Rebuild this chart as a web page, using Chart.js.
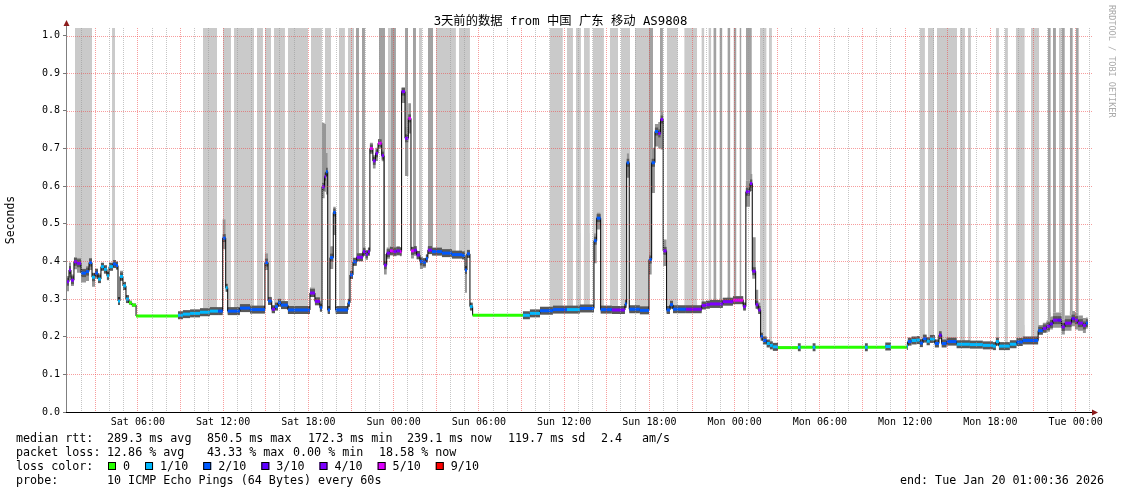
<!DOCTYPE html>
<html>
<head>
<meta charset="utf-8">
<script src="https://cdn.jsdelivr.net/npm/chart.js@4.4.1/dist/chart.umd.min.js"></script>
<style>
  html, body { margin: 0; padding: 0; background: #fff; }
  #wrap { width: 1121px; height: 494px; }
</style>
</head>
<body>
<div id="wrap"><canvas id="smoke" width="1121" height="494"></canvas></div>
<script>
// loss colour legend
const lossLabels = ['0', '1/10', '2/10', '3/10', '4/10', '5/10', '9/10'];
const lossColors = ['#26ff00', '#00b8ff', '#0059ff', '#5e00ff', '#7e00ff', '#dd00ff', '#ff0000'];

// median rtt, as steps: hour since Sat 00:00, seconds, loss colour index
const stepHour = [
  1.01, 1.15, 1.29, 1.50, 1.71, 2.00, 2.35, 2.56, 2.77, 2.98,
  3.19, 3.40, 3.61, 3.82, 3.97, 4.25, 4.46, 4.60, 4.74, 4.95,
  5.16, 5.37, 5.58, 5.87, 8.82, 9.17, 9.67, 10.37, 11.07, 11.64,
  11.97, 12.18, 12.32, 13.18, 13.89, 14.94, 15.16, 15.42, 15.65, 15.86,
  16.07, 16.56, 18.11, 18.46, 18.81, 18.96, 19.14, 19.24, 19.36, 19.52,
  19.75, 19.92, 20.78, 20.93, 21.14, 21.40, 21.84, 22.02, 22.19, 22.33,
  22.54, 22.73, 22.90, 23.16, 23.32, 23.51, 23.74, 23.95, 24.20, 24.44,
  24.56, 24.80, 25.03, 25.22, 25.43, 25.62, 25.85, 26.06, 26.27, 26.41,
  26.70, 27.40, 28.10, 28.81, 29.02, 29.16, 29.37, 29.56, 33.10, 33.59,
  34.30, 35.21, 36.20, 37.11, 38.10, 38.29, 38.57, 39.36, 40.28, 40.40,
  40.58, 41.33, 41.97, 42.16, 42.39, 42.62, 42.79, 42.97, 43.21, 43.45,
  43.66, 44.57, 45.68, 45.98, 46.26, 47.17, 47.88, 48.60, 48.79, 49.08,
  49.24, 49.48, 49.66, 49.83, 49.99, 50.25, 50.48, 50.69, 51.05, 52.45,
  52.65, 53.49, 53.69, 57.17, 57.37, 58.60, 59.00, 60.12, 60.19, 60.45,
  60.81, 61.04, 61.25, 61.51, 61.74, 62.09, 62.38, 62.57, 62.92, 63.62,
  64.56, 65.47, 66.18, 66.39, 66.60, 67.37, 67.84, 68.28, 69.36, 69.69,
  69.95, 70.19, 70.40, 70.75, 71.01, 71.24, 71.71, 71.95, 72.16, 72.51,
  72.72
];
const lastHour = 72.86;
const medianSec = [
  .346, .377, .350, .399, .395, .369, .373, .397, .358, .369,
  .353, .386, .379, .362, .386, .393, .389, .295, .360, .335,
  .300, .290, .284, .255, .257, .260, .262, .265, .268, .268,
  .462, .330, .268, .276, .272, .397, .295, .273, .280, .290,
  .284, .271, .316, .294, .277, .598, .625, .638, .271, .410,
  .530, .271, .290, .364, .399, .411, .426, .419, .426, .700,
  .667, .687, .714, .681, .390, .422, .428, .426, .428, .426,
  .851, .727, .780, .428, .430, .417, .400, .398, .408, .430,
  .426, .422, .418, .416, .377, .420, .280, .257, .257, .262,
  .269, .272, .272, .275, .455, .515, .272, .271, .287, .662,
  .273, .270, .405, .662, .745, .740, .777, .428, .271, .285,
  .273, .273, .283, .285, .287, .293, .297, .280, .585, .607,
  .374, .285, .271, .200, .190, .182, .177, .173, .171, .172,
  .172, .172, .172, .172, .172, .174, .172, .175, .187, .190,
  .191, .183, .195, .188, .194, .182, .204, .182, .187, .180,
  .179, .177, .175, .187, .175, .180, .186, .190, .216, .222,
  .228, .234, .244, .244, .226, .236, .248, .244, .236, .230,
  .236
];
const lossIdx = [
  4, 4, 4, 4, 4, 2, 2, 2, 1, 2,
  1, 1, 1, 1, 1, 2, 2, 1, 1, 1,
  1, 0, 0, 0, 1, 1, 1, 1, 1, 2,
  2, 1, 2, 2, 2, 2, 2, 4, 2, 2,
  2, 2, 4, 4, 2, 4, 4, 2, 2, 2,
  2, 2, 2, 2, 2, 4, 4, 4, 4, 5,
  4, 4, 5, 4, 4, 4, 5, 4, 4, 5,
  4, 4, 5, 5, 4, 4, 2, 2, 2, 4,
  2, 2, 2, 2, 2, 2, 1, 0, 1, 1,
  2, 2, 1, 2, 2, 2, 2, 4, 2, 2,
  2, 2, 2, 2, 2, 4, 4, 4, 2, 2,
  2, 4, 4, 4, 4, 4, 5, 4, 4, 4,
  4, 4, 4, 2, 2, 1, 1, 1, 0, 1,
  0, 1, 0, 1, 0, 1, 0, 1, 2, 1,
  1, 2, 2, 1, 1, 2, 3, 2, 2, 1,
  1, 1, 1, 1, 1, 1, 2, 2, 2, 4,
  4, 3, 4, 3, 4, 4, 3, 4, 4, 4,
  2
];
// smoke spread above / below the median, ms
const smokeUpMs = [
  15, 20, 15, 12, 15, 12, 15, 12, 12, 12,
  15, 10, 10, 10, 10, 8, 8, 8, 15, 10,
  8, 6, 5, 2, 4, 6, 8, 10, 8, 8,
  50, 10, 8, 8, 8, 25, 8, 8, 8, 6,
  6, 6, 15, 8, 8, 170, 140, 50, 8, 30,
  15, 8, 8, 10, 10, 10, 10, 10, 10, 15,
  15, 15, 10, 15, 30, 15, 12, 12, 12, 12,
  10, 30, 40, 10, 10, 10, 10, 10, 10, 8,
  8, 6, 6, 6, 10, 8, 8, 2, 3, 5,
  6, 8, 8, 8, 20, 15, 8, 8, 8, 25,
  8, 8, 20, 40, 20, 30, 20, 30, 8, 8,
  8, 8, 8, 10, 10, 10, 10, 10, 30, 25,
  90, 40, 20, 10, 8, 6, 4, 4, 3, 3,
  3, 3, 3, 4, 3, 4, 3, 5, 8, 8,
  8, 8, 8, 8, 8, 8, 8, 8, 8, 6,
  6, 6, 6, 6, 6, 6, 6, 6, 15, 15,
  15, 20, 20, 20, 20, 20, 20, 20, 20, 20,
  15
];
const smokeDnMs = [
  25, 20, 15, 20, 25, 25, 25, 20, 25, 15,
  10, 10, 12, 12, 10, 8, 10, 8, 12, 10,
  6, 6, 5, 0, 1, 2, 3, 4, 4, 5,
  30, 10, 8, 8, 8, 20, 8, 8, 8, 8,
  8, 8, 10, 8, 8, 30, 40, 60, 8, 30,
  60, 8, 8, 10, 10, 10, 10, 15, 10, 15,
  20, 20, 15, 15, 25, 15, 12, 12, 12, 12,
  30, 100, 40, 20, 15, 12, 20, 15, 10, 8,
  6, 5, 5, 5, 60, 8, 6, 0, 1, 2,
  4, 6, 6, 6, 60, 30, 6, 6, 8, 40,
  8, 8, 40, 80, 40, 40, 80, 40, 8, 8,
  8, 8, 8, 8, 8, 8, 10, 8, 40, 20,
  20, 10, 10, 5, 5, 3, 3, 2, 1, 1,
  1, 1, 1, 1, 1, 2, 1, 2, 5, 5,
  5, 5, 5, 5, 5, 5, 5, 5, 5, 4,
  4, 3, 3, 5, 3, 4, 4, 4, 10, 12,
  15, 15, 20, 20, 20, 20, 20, 25, 20, 20,
  15
];

// smoke that runs off the top of the graph: [from hour, to hour]
const tallLight = [
  [1.57, 2.77], [4.18, 4.39], [10.58, 11.57], [11.99, 12.55], [12.76, 14.17],
  [14.38, 14.80], [14.94, 15.37], [15.58, 16.35], [16.56, 17.97], [18.18, 18.95],
  [19.17, 19.59], [20.15, 20.57], [20.78, 21.21], [23.60, 23.81], [25.78, 25.99],
  [26.98, 28.38], [28.60, 29.37], [35.00, 35.91], [36.20, 36.62], [36.83, 37.18],
  [37.39, 37.81], [38.02, 38.80], [39.22, 39.79], [40.00, 40.64], [40.99, 42.25],
  [43.23, 44.00], [44.45, 45.36], [45.66, 45.87], [46.15, 46.36], [49.78, 50.25],
  [50.41, 50.62], [61.04, 61.39], [61.60, 62.03], [62.24, 63.65], [63.86, 64.21],
  [64.42, 64.63], [66.39, 66.60], [67.02, 67.23], [67.79, 68.42], [68.85, 69.42],
  [70.82, 71.03]
];
const tallDark = [
  [21.35, 21.56], [21.77, 21.98], [22.97, 23.39], [23.81, 24.16], [24.80, 25.01],
  [25.36, 25.57], [26.41, 26.77], [41.97, 42.25], [42.74, 42.95], [46.50, 46.72],
  [46.93, 47.14], [47.49, 47.70], [47.92, 48.13], [48.34, 48.48], [48.79, 49.21],
  [70.04, 70.25], [70.40, 70.61], [71.03, 71.24], [71.59, 71.80], [72.01, 72.22]
];

// axis labels
const tickHours = [6, 12, 18, 24, 30, 36, 42, 48, 54, 60, 66, 72];
const tickLabels = ['Sat 06:00', 'Sat 12:00', 'Sat 18:00', 'Sun 00:00', 'Sun 06:00', 'Sun 12:00',
  'Sun 18:00', 'Mon 00:00', 'Mon 06:00', 'Mon 12:00', 'Mon 18:00', 'Tue 00:00'];
const yTickValues = [0, 0.1, 0.2, 0.3, 0.4, 0.5, 0.6, 0.7, 0.8, 0.9, 1.0];

const titleText = '3天前的数据 from 中国 广东 移动 AS9808';
const statsRtt = [['median rtt:', 16], ['289.3 ms avg', 107], ['850.5 ms max', 207], ['172.3 ms min', 308],
  ['239.1 ms now', 407], ['119.7 ms sd', 508], ['2.4', 601], ['am/s', 642]];
const statsLoss = [['packet loss:', 16], ['12.86 % avg', 107], ['43.33 % max', 207], ['0.00 % min', 293], ['18.58 % now', 379]];
const probeText = '10 ICMP Echo Pings (64 Bytes) every 60s';
const endText = 'end: Tue Jan 20 01:00:36 2026';

const X_MIN = 1.01, X_MAX = 73.01, Y_MAX = 1.02;
const MONO = '"DejaVu Sans Mono", monospace';
const RED_GRID = 'rgba(240, 60, 60, 0.5)';
const GREY_GRID = 'rgba(150, 150, 150, 0.55)';

function stepLine(vals) {
  const pts = stepHour.map((h, i) => ({x: h, y: vals[i]}));
  pts.push({x: lastHour, y: vals[vals.length - 1]});
  return pts;
}
const medianPts = stepLine(medianSec);
const smokeHiPts = stepLine(medianSec.map((v, i) => v + smokeUpMs[i] / 1000));
const smokeLoPts = stepLine(medianSec.map((v, i) => v - smokeDnMs[i] / 1000));

// horizontal pieces only, so the loss colour does not run up the jumps
const pieces = [];
stepHour.forEach((h, i) => {
  const next = i + 1 < stepHour.length ? stepHour[i + 1] : lastHour;
  pieces.push({x: h, y: medianSec[i]}, {x: next, y: medianSec[i]}, {x: next, y: null});
});

function barLine(list) {
  const pts = [];
  list.forEach(([a, b]) => pts.push({x: a, y: Y_MAX}, {x: b, y: Y_MAX}, {x: b, y: null}));
  return pts;
}

const gridHours = [];
for (let h = 2; h <= 73; h++) gridHours.push(h);

// dotted value grid, drawn over the smoke like rrdtool does
const valueGrid = {
  id: 'valueGrid',
  afterDatasetsDraw(chart) {
    const ctx = chart.ctx;
    const a = chart.chartArea;
    const ys = chart.scales.y;
    ctx.save();
    ctx.lineWidth = 1;
    ctx.strokeStyle = RED_GRID;
    ctx.setLineDash([1, 1]);
    yTickValues.forEach(v => {
      if (v === 0) return;
      const py = Math.round(ys.getPixelForValue(v)) + 0.5;
      ctx.beginPath();
      ctx.moveTo(a.left, py);
      ctx.lineTo(a.right + 2, py);
      ctx.stroke();
    });
    ctx.restore();
  }
};

const overlay = {
  id: 'overlay',
  afterDraw(chart) {
    const ctx = chart.ctx;
    const a = chart.chartArea;
    ctx.save();
    // axes + arrows
    ctx.lineWidth = 1;
    ctx.strokeStyle = '#808080';
    ctx.beginPath(); ctx.moveTo(a.left - 0.5, a.bottom + 1); ctx.lineTo(a.left - 0.5, 22); ctx.stroke();
    ctx.strokeStyle = '#000';
    ctx.beginPath(); ctx.moveTo(a.left - 1, a.bottom + 0.5); ctx.lineTo(1093, a.bottom + 0.5); ctx.stroke();
    ctx.fillStyle = '#8c1c1c';
    ctx.beginPath(); ctx.moveTo(a.left - 3.5, 26); ctx.lineTo(a.left + 2.5, 26); ctx.lineTo(a.left - 0.5, 20); ctx.closePath(); ctx.fill();
    ctx.beginPath(); ctx.moveTo(1092, a.bottom - 2.5); ctx.lineTo(1092, a.bottom + 3.5); ctx.lineTo(1098, a.bottom + 0.5); ctx.closePath(); ctx.fill();

    // title
    ctx.fillStyle = '#000';
    ctx.font = '12.3px "DejaVu Sans Mono", "Noto Sans CJK SC"';
    ctx.textAlign = 'center';
    ctx.textBaseline = 'middle';
    ctx.fillText(titleText, 560.5, 21.5);

    // legend
    ctx.font = '11.7px ' + MONO;
    ctx.textAlign = 'left';
    statsRtt.forEach(([t, x]) => ctx.fillText(t, x, 438.5));
    statsLoss.forEach(([t, x]) => ctx.fillText(t, x, 452.5));
    ctx.fillText('loss color:', 16, 466.5);
    let bx = 108;
    lossLabels.forEach((lbl, i) => {
      ctx.fillStyle = lossColors[i];
      ctx.fillRect(bx, 462, 8, 8);
      ctx.strokeStyle = '#000';
      ctx.strokeRect(bx + 0.5, 462.5, 7, 7);
      ctx.fillStyle = '#000';
      ctx.fillText(lbl, bx + 15, 466.5);
      bx += 15 + ctx.measureText(lbl).width + 15;
    });
    ctx.fillText('probe:', 16, 480.5);
    ctx.fillText(probeText, 107, 480.5);
    ctx.textAlign = 'right';
    ctx.fillText(endText, 1104, 480.5);

    // side credit
    ctx.translate(1111.5, 5);
    ctx.rotate(Math.PI / 2);
    ctx.font = '8.5px ' + MONO;
    ctx.fillStyle = '#aaaaaa';
    ctx.textAlign = 'left';
    ctx.fillText('RRDTOOL / TOBI OETIKER', 0, 0);
    ctx.restore();
  }
};

const base = {pointRadius: 0, pointHoverRadius: 0, spanGaps: false};

new Chart(document.getElementById('smoke'), {
  type: 'line',
  data: {
    datasets: [
      Object.assign({}, base, { // 0: loss-coloured median
        data: pieces, borderWidth: 3, fill: false, order: 0,
        segment: { borderColor: c => lossColors[lossIdx[Math.floor(c.p0DataIndex / 3)]] }
      }),
      Object.assign({}, base, { // 1: black median
        data: medianPts, stepped: true, borderColor: '#000', borderWidth: 1, fill: false, order: 1
      }),
      Object.assign({}, base, { // 2: dark core of the smoke
        data: pieces, borderWidth: 8, fill: false, order: 2,
        segment: { borderColor: c => lossIdx[Math.floor(c.p0DataIndex / 3)] === 0 ? 'rgba(0,0,0,0)' : '#585858' }
      }),
      Object.assign({}, base, { // 3: smoke top
        data: smokeHiPts, stepped: true, borderColor: 'rgba(0,0,0,0)', borderWidth: 0,
        backgroundColor: '#969696', fill: 4, order: 3
      }),
      Object.assign({}, base, { // 4: smoke bottom
        data: smokeLoPts, stepped: true, borderColor: 'rgba(0,0,0,0)', borderWidth: 0, fill: false, order: 4
      }),
      Object.assign({}, base, { // 5: dense off-scale smoke
        data: barLine(tallDark), borderColor: 'rgba(0,0,0,0)', borderWidth: 0,
        backgroundColor: '#a2a2a2', fill: 3, order: 5
      }),
      Object.assign({}, base, { // 6: sparse off-scale smoke
        data: barLine(tallLight), borderColor: 'rgba(0,0,0,0)', borderWidth: 0,
        backgroundColor: '#cacaca', fill: 3, order: 6
      })
    ]
  },
  options: {
    responsive: false,
    animation: false,
    devicePixelRatio: 1,
    layout: { padding: { left: 0, right: 31, top: 28, bottom: 0 } },
    plugins: { legend: { display: false }, tooltip: { enabled: false }, title: { display: false } },
    elements: { line: { tension: 0 } },
    scales: {
      x: {
        type: 'linear', min: X_MIN, max: X_MAX,
        afterBuildTicks: s => { s.ticks = gridHours.map(v => ({value: v})); },
        afterFit: s => { s.height = 82; },
        ticks: {
          autoSkip: false, maxRotation: 0, padding: 4, color: '#000',
          font: { family: MONO, size: 10 },
          callback: v => { const i = tickHours.indexOf(v); return i < 0 ? '' : tickLabels[i]; }
        },
        grid: {
          z: 1, drawTicks: false, lineWidth: 1,
          color: c => (c.tick && c.tick.value % 3 === 0) ? RED_GRID : GREY_GRID
        },
        border: { display: false, dash: [1, 1] }
      },
      y: {
        min: 0, max: Y_MAX,
        afterBuildTicks: s => { s.ticks = yTickValues.map(v => ({value: v})); },
        afterFit: s => { s.width = 67; },
        ticks: { padding: 3, color: '#000', font: { family: MONO, size: 10 }, callback: v => v.toFixed(1) },
        grid: { drawOnChartArea: false, tickLength: 4, tickColor: '#777', tickBorderDash: [] },
        border: { display: false },
        title: { display: true, text: 'Seconds', color: '#000', font: { family: MONO, size: 11.5 }, padding: { top: 4, bottom: 0 } }
      }
    }
  },
  plugins: [valueGrid, overlay]
});
</script>
</body>
</html>
